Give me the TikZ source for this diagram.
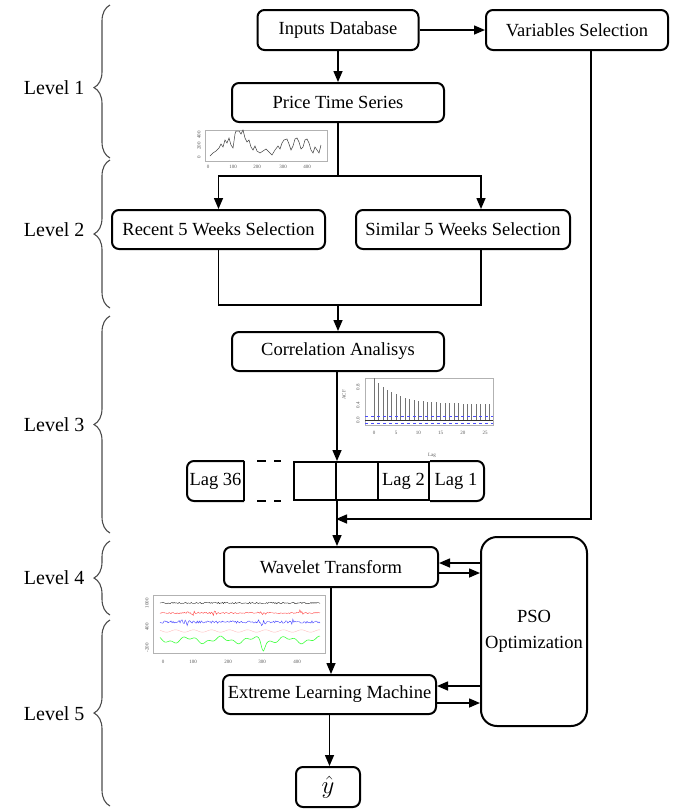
\documentclass[tikz,border=0pt]{standalone}
\usepackage{fontspec}
\setmainfont{Liberation Serif}
\usetikzlibrary{arrows.meta,decorations.pathreplacing}

\begin{document}
\begin{tikzpicture}[
    x=1pt, y=-1pt,
    font=\fontsize{18.5}{22}\selectfont,
    block/.style={draw, rectangle, rounded corners=7pt, line width=2pt, inner sep=0pt, align=center},
    cell/.style={rectangle, inner sep=0pt, minimum height=38pt, line width=2pt},
    wire/.style={line width=1.5pt},
    link/.style={line width=1.5pt, -{Triangle[length=11pt,width=9pt]}},
    dashes/.style={line width=2pt, dash pattern=on 9pt off 8pt},
    lvl/.style={draw=black!70, line width=1.1pt, decorate, decoration={brace, amplitude=16pt}},
    lvltext/.style={anchor=east, font=\fontsize{20}{22}\selectfont},
    plotframe/.style={draw=black!30, line width=.6pt},
    ticklab/.style={font=\fontsize{5}{5}\selectfont, text=black!65, inner sep=0pt}
]
\useasboundingbox (0,0) rectangle (686,812);

% level braces
\draw[lvl, decoration={aspect=0.46}] (110,158) -- (110,5);
\draw[lvl] (110,308) -- (110,160);
\draw[lvl] (110,533) -- (110,316);
\draw[lvl] (110,615) -- (110,541);
\draw[lvl] (110,806) -- (110,620);
\node[lvltext] (lvl1) at (88,88) {Level 1};
\node[lvltext] (lvl2) at (88,230) {Level 2};
\node[lvltext] (lvl3) at (88,425) {Level 3};
\node[lvltext] (lvl4) at (88,578) {Level 4};
\node[lvltext] (lvl5) at (88,714) {Level 5};

% blocks
\node[block, minimum width=161pt, minimum height=40pt] (inputs) at (338,30) {Inputs Database};
\node[block, minimum width=182pt, minimum height=40pt] (vars) at (577,30) {Variables Selection};
\node[block, minimum width=212pt, minimum height=39pt] (price) at (338,102.5) {Price Time Series};
\node[block, minimum width=213pt, minimum height=39pt] (recent) at (218.5,229.5) {Recent 5 Weeks Selection};
\node[block, minimum width=214pt, minimum height=39pt] (similar) at (463,229.5) {Similar 5 Weeks Selection};
\node[block, minimum width=212pt, minimum height=39pt] (corr) at (338,351.5) {Correlation Analisys};
\node[block, minimum width=214pt, minimum height=40pt] (wave) at (331,567) {Wavelet Transform};
\node[block, rounded corners=16pt, minimum width=106pt, minimum height=189pt,
      font=\fontsize{18.5}{26}\selectfont] (pso) at (534,631.5) {PSO\\Optimization};
\node[block, minimum width=213pt, minimum height=39pt] (elm) at (329.5,694.5) {Extreme Learning Machine};
\node[block, minimum width=64pt, minimum height=40pt, font=\fontsize{24}{26}\selectfont] (yhat) at (328,787) {$\hat{y}$};

% lag strip
\node[cell, minimum width=55pt] (lag36) at (215.5,481) {Lag 36};
\node[cell, draw, minimum width=42pt] (c4) at (315,481) {};
\node[cell, draw, minimum width=42pt] (c3) at (357,481) {};
\node[cell, draw, minimum width=51pt] (lag2) at (403.5,481) {Lag 2};
\node[cell, minimum width=54pt] (lag1) at (456,481) {Lag 1};
\draw[line width=2pt, rounded corners=7pt] (lag2.north east) -- (lag1.north east) -- (lag1.south east) -- (lag2.south east);
\draw[line width=2pt, rounded corners=7pt] (lag36.north east) -- (lag36.north west) -- (lag36.south west) -- (lag36.south east);
\draw[line width=2pt] (lag36.north east) -- (lag36.south east);
\draw[dashes] ([xshift=13pt]lag36.north east) -- ([xshift=-12pt]c4.north west);
\draw[dashes] ([xshift=13pt]lag36.south east) -- ([xshift=-12pt]c4.south west);

% connectors
\coordinate (split) at (338,176);
\coordinate (merge) at (338,305);
\coordinate (join) at (336,519);
\draw[link] (inputs.east) -- (inputs.east -| vars.west);
\draw[link] (inputs.south) -- (price.north);
\draw[wire] (price.south) -- (split);
\draw[link] (split) -| (recent.north);
\draw[link] (split) -| ([xshift=18pt]similar.north);
\draw[wire] (recent.south) |- (merge) -| ([xshift=18pt]similar.south);
\draw[link] (merge) -- (corr.north);
\draw[link] (corr.south -| c4.north east) -- (c4.north east);
\draw[link] (c4.south east) -- (c4.south east |- wave.north);
\draw[link] ([xshift=14pt]vars.south) |- (join);
\draw[link] ([yshift=4pt]wave.east -| pso.west) -- ([yshift=4pt]wave.east);
\draw[link] ([yshift=-6pt]wave.east) -- ([yshift=-6pt]wave.east -| pso.west);
\draw[link] ([yshift=8.5pt]elm.east -| pso.west) -- ([yshift=8.5pt]elm.east);
\draw[link] ([yshift=-8.5pt]elm.east) -- ([yshift=-8.5pt]elm.east -| pso.west);
\draw[link] (wave.south) -- (wave.south |- elm.north);
\draw[link] (elm.south) -- (elm.south |- yhat.north);

% price series plot
\draw[plotframe] (205,130) rectangle (327,161);
\draw[black!75, line width=.5pt] plot coordinates {(210,156) (213,153) (216,151) (219,148) (221,144)
  (223,147) (225,140) (227,143) (229,138) (231,145) (233,148) (235,134) (236,131) (239,131)
  (241,134) (243,130) (245,138) (247,142) (249,140) (251,147) (253,150) (255,146) (257,151)
  (260,153) (263,151) (266,149) (269,152) (272,155) (275,150) (278,146) (280,149) (282,143)
  (284,140) (287,139) (289,144) (291,150) (293,146) (295,139) (297,138) (299,142) (301,149)
  (303,147) (305,140) (307,139) (309,143) (311,150) (313,153) (315,147) (317,150) (319,153) (321,145)};
\foreach \v/\p in {0/208,100/233,200/257,300/283,400/307}
  \node[ticklab] (px\v) at (\p,167) {\v};
\foreach \v/\p in {0/157,200/146,400/135}
  \node[ticklab, rotate=90] (py\v) at (199,\p) {\v};

% autocorrelation plot
\draw[plotframe] (365,378) rectangle (493,425);
\foreach \k in {0,...,26}
  \draw[black!55, line width=.6pt] ({374+4.44*\k},420) -- ({374+4.44*\k},{420-42*(0.38+0.62*exp(-\k/5))});
\draw[black!80, line width=.5pt] (365,420) -- (493,420);
\draw[blue!70, dashed, line width=.5pt] (365,416) -- (493,416);
\draw[blue!70, dashed, line width=.5pt] (365,423) -- (493,423);
\foreach \v in {0,5,...,25}
  \node[ticklab] (ax\v) at ({374+4.44*\v},433) {\v};
\node[ticklab, rotate=90] (ay0) at (358,420) {0.0};
\node[ticklab, rotate=90] (ay4) at (358,405) {0.4};
\node[ticklab, rotate=90] (ay8) at (358,387) {0.8};
\node[ticklab, rotate=90] (acflab) at (344,395) {ACF};
\node[ticklab] (laglab) at (432,455) {Lag};

% wavelet plot
\pgfmathsetseed{11}
\draw[plotframe] (153,595) rectangle (325,653);
\draw[black!80, line width=.4pt] plot[domain=160:320, samples=160] (\x,{603+0.8*rand});
\draw[red!75, line width=.4pt] plot[domain=160:320, samples=160]
  (\x,{613+0.6*rand+3*rand*(exp(-((\x-192)/5)^2)+exp(-((\x-212)/5)^2)+exp(-((\x-262)/5)^2)+exp(-((\x-300)/4)^2))});
\draw[blue!75, line width=.4pt] plot[domain=160:320, samples=160]
  (\x,{622+1.2*rand+3*rand*(exp(-((\x-185)/8)^2)+exp(-((\x-262)/5)^2)+exp(-((\x-293)/3)^2))});
\draw[red!25, line width=.4pt, smooth] plot[domain=160:320, samples=80] (\x,{631+1.2*sin(\x*20)});
\draw[green!75, line width=.6pt, smooth] plot[domain=160:320, samples=100]
  (\x,{640+2.5*sin(\x*11)+1.5*sin(\x*29)+9*exp(-((\x-263)/2.5)^2)});
\foreach \v/\p in {0/163,100/193,200/228,300/262,400/297}
  \node[ticklab] (wx\v) at (\p,662) {\v};
\node[ticklab, rotate=90] (wy1) at (147,603) {1000};
\node[ticklab, rotate=90] (wy2) at (147,627) {400};
\node[ticklab, rotate=90] (wy3) at (147,648) {-200};
\end{tikzpicture}
\end{document}
